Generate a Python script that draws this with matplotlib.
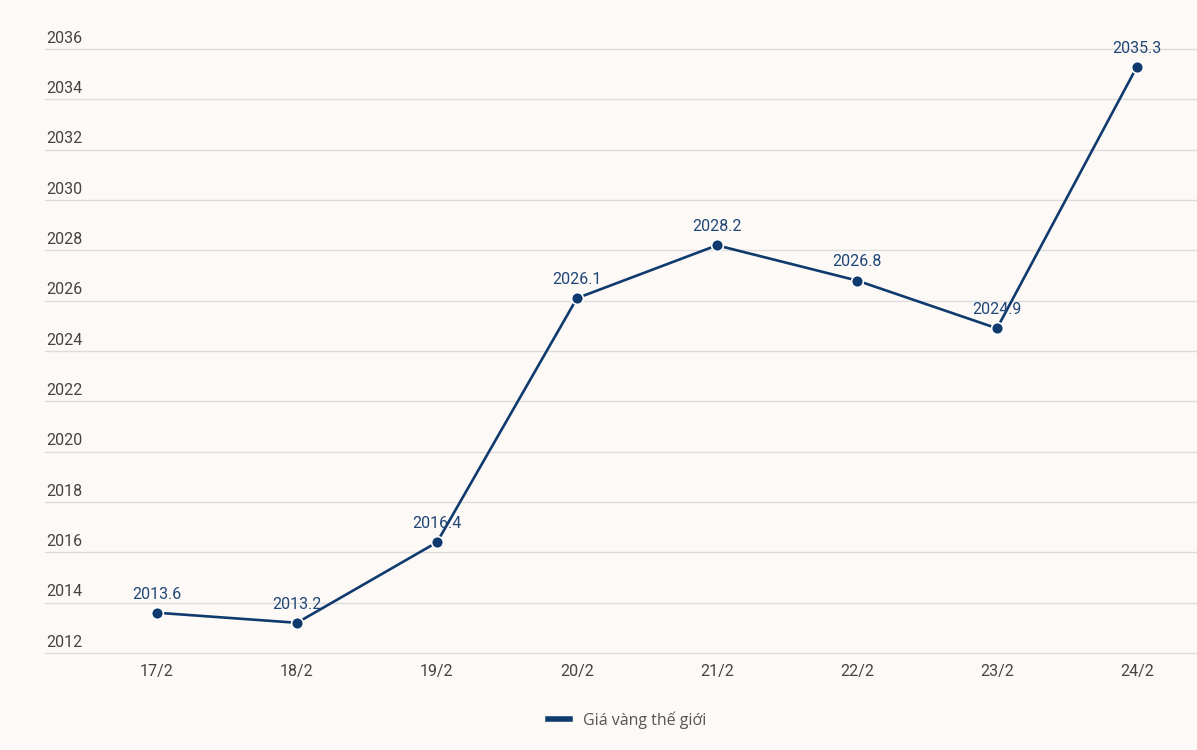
import matplotlib.pyplot as plt
from matplotlib.transforms import blended_transform_factory

days = ['17/2', '18/2', '19/2', '20/2', '21/2', '22/2', '23/2', '24/2']
gold_price = [2013.6, 2013.2, 2016.4, 2026.1, 2028.2, 2026.8, 2024.9, 2035.3]
y_ticks = list(range(2012, 2037, 2))

bg = '#fdf9f6'
navy = '#0f3a6e'

fig = plt.figure(figsize=(11.97, 7.5), dpi=100, facecolor=bg)
ax = fig.add_axes([45 / 1197, 97 / 750, 1152 / 1197, 604 / 750], facecolor=bg)

x = list(range(len(days)))
ax.plot(x, gold_price, color=navy, lw=1.9, marker='o', ms=8.5,
        mfc=navy, mec='white', mew=1.2, label='Giá vàng thế giới', zorder=3, clip_on=False)

for xi, v in zip(x, gold_price):
    ax.annotate(f'{v:.1f}', (xi, v), xytext=(0, 8), textcoords='offset points',
                ha='center', va='bottom', fontsize=11.5, color='#1f4677',
                family='Roboto', zorder=4)

ax.set_xlim(-0.8, 7 + 60 / 140)
ax.set_ylim(2012, 2036)
ax.set_yticks([])
for t in y_ticks:
    ax.axhline(t, color='#dcdcdc', lw=1, zorder=0, clip_on=False)
ax.tick_params(axis='x', length=0, pad=8, labelsize=11.5, labelcolor='#444444')
ax.set_xticks(x)
ax.set_xticklabels(days, family='Roboto')
for s in ax.spines.values():
    s.set_visible(False)

trans = blended_transform_factory(ax.transAxes, ax.transData)
for t in y_ticks:
    ax.annotate(str(t), (0, t), xycoords=trans, xytext=(1, 2.5), textcoords='offset points',
                ha='left', va='bottom', fontsize=11.5, color='#444444', family='Roboto')

leg = fig.legend(loc='center', bbox_to_anchor=(627 / 1197, 1 - 720 / 750), frameon=False,
                 handlelength=1.4, handletextpad=0.8,
                 prop={'family': 'Open Sans', 'size': 11.5})
for h in leg.get_lines():
    h.set_marker('')
    h.set_linewidth(4)
for t in leg.get_texts():
    t.set_color('#555555')

fig.savefig('out.png', dpi=100, facecolor=bg)
